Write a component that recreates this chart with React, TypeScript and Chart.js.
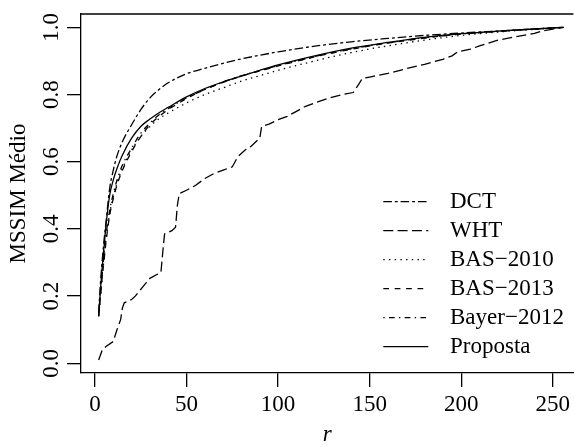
import React, { useEffect, useRef } from "react";
import { Chart, registerables } from "chart.js";

Chart.register(...registerables);

// ---- data ----
const rSmooth = [2, 3, 4, 5, 6, 8, 10, 12, 15, 20, 25, 30, 35, 40, 50, 60, 70, 80, 90, 100, 120, 140, 160, 180, 200, 220, 240, 256];
const dct = [0.15, 0.24, 0.31, 0.37, 0.42, 0.52, 0.575, 0.617, 0.66, 0.71, 0.755, 0.79, 0.815, 0.835, 0.862, 0.878, 0.893, 0.906, 0.917, 0.927, 0.944, 0.957, 0.967, 0.976, 0.983, 0.989, 0.995, 1.0];
const bas2010 = [0.14, 0.2, 0.26, 0.315, 0.365, 0.445, 0.495, 0.535, 0.58, 0.635, 0.675, 0.705, 0.728, 0.745, 0.775, 0.8, 0.82, 0.84, 0.856, 0.872, 0.9, 0.925, 0.945, 0.962, 0.976, 0.986, 0.994, 1.0];
const bas2013 = [0.14, 0.2, 0.26, 0.31, 0.36, 0.44, 0.49, 0.53, 0.575, 0.63, 0.675, 0.71, 0.735, 0.755, 0.788, 0.815, 0.836, 0.855, 0.87, 0.885, 0.912, 0.935, 0.953, 0.968, 0.98, 0.988, 0.995, 1.0];
const bayer2012 = [0.145, 0.21, 0.27, 0.33, 0.38, 0.455, 0.505, 0.545, 0.59, 0.64, 0.685, 0.715, 0.74, 0.758, 0.79, 0.815, 0.837, 0.856, 0.871, 0.886, 0.913, 0.936, 0.954, 0.969, 0.98, 0.988, 0.995, 1.0];
const proposta = [0.14, 0.22, 0.29, 0.35, 0.41, 0.5, 0.546, 0.58, 0.62, 0.67, 0.705, 0.727, 0.746, 0.762, 0.793, 0.818, 0.838, 0.855, 0.872, 0.888, 0.915, 0.938, 0.955, 0.97, 0.981, 0.989, 0.995, 1.0];

const rWht = [2, 4, 6, 10, 12, 14, 15, 16, 20, 22, 26, 28, 30, 34, 36, 37, 38, 42, 44, 45, 46, 50, 55, 60, 65, 70, 75, 78, 82, 85, 90, 91, 95, 100, 105, 110, 115, 120, 128, 135, 141, 144, 146, 150, 160, 170, 180, 190, 195, 198, 205, 210, 220, 230, 240, 245, 250, 256];
const wht = [0.01, 0.04, 0.05, 0.065, 0.1, 0.13, 0.165, 0.18, 0.19, 0.2, 0.227, 0.24, 0.253, 0.265, 0.27, 0.33, 0.385, 0.395, 0.405, 0.47, 0.505, 0.515, 0.53, 0.55, 0.565, 0.575, 0.585, 0.615, 0.635, 0.645, 0.67, 0.705, 0.712, 0.725, 0.735, 0.75, 0.765, 0.775, 0.79, 0.8, 0.806, 0.83, 0.848, 0.852, 0.863, 0.877, 0.89, 0.905, 0.915, 0.927, 0.935, 0.945, 0.962, 0.972, 0.982, 0.99, 0.995, 1.0];

const xTicks = [0, 50, 100, 150, 200, 250];
const yTicks = [0, 0.2, 0.4, 0.6, 0.8, 1.0];
const yTickLabels = ["0.0", "0.2", "0.4", "0.6", "0.8", "1.0"];

const seriesLabels = ["DCT", "WHT", "BAS\u22122010", "BAS\u22122013", "Bayer\u22122012", "Proposta"];

const FONT = "'Liberation Serif', 'DejaVu Serif', serif";

export default function App() {
  const ref = useRef<HTMLCanvasElement | null>(null);

  useEffect(() => {
    if (!ref.current) return;
    const pts = (xs: number[], ys: number[]) => xs.map((x, i) => ({ x, y: ys[i] }));
    const dashes: number[][] = [
      [8.6, 2.9, 2.9, 2.9],
      [10, 4.3],
      [1.4, 4.3],
      [5.7, 5.7],
      [1.4, 4.3, 5.7, 4.3],
      [],
    ];
    const dataSets = [
      pts(rSmooth, dct),
      pts(rWht, wht),
      pts(rSmooth, bas2010),
      pts(rSmooth, bas2013),
      pts(rSmooth, bayer2012),
      pts(rSmooth, proposta),
    ];
    const datasets = dataSets.map((d, i) => ({
      label: seriesLabels[i],
      data: d,
      borderColor: "#000",
      borderWidth: 1.3,
      borderDash: dashes[i],
      pointRadius: 0,
      fill: false,
      tension: 0,
      cubicInterpolationMode: i === 1 ? "default" : "monotone",
    }));

    const framePlugin = {
      id: "frame",
      afterDraw(chart: any) {
        const { ctx, chartArea } = chart;
        ctx.save();
        // top border of box
        ctx.strokeStyle = "#000";
        ctx.lineWidth = 1.3;
        ctx.beginPath();
        ctx.moveTo(chartArea.left, chartArea.top);
        ctx.lineTo(chartArea.right, chartArea.top);
        ctx.stroke();
        // y tick labels (rotated, R style)
        const ys = chart.scales.y;
        ctx.fillStyle = "#000";
        ctx.font = `23px ${FONT}`;
        ctx.textAlign = "center";
        ctx.textBaseline = "middle";
        ys.ticks.forEach((t: any, i: number) => {
          const py = ys.getPixelForValue(t.value);
          ctx.save();
          ctx.translate(51.7, py);
          ctx.rotate(-Math.PI / 2);
          ctx.fillText(yTickLabels[i], 0, 0);
          ctx.restore();
        });
        // legend
        const lx0 = 383.3;
        const lx1 = 428.3;
        const tx = 450;
        const y0 = 201.7;
        const dy = 29;
        chart.data.datasets.forEach((ds: any, i: number) => {
          const y = y0 + i * dy;
          ctx.save();
          ctx.lineWidth = 1.3;
          ctx.setLineDash(ds.borderDash || []);
          ctx.beginPath();
          ctx.moveTo(lx0, y);
          ctx.lineTo(lx1, y);
          ctx.stroke();
          ctx.restore();
          ctx.textAlign = "left";
          ctx.fillText(ds.label, tx, y);
        });
        ctx.restore();
      },
    };

    const chart = new Chart(ref.current, {
      type: "line",
      data: { datasets: datasets as any },
      options: {
        animation: false,
        responsive: false,
        maintainAspectRatio: false,
        layout: { padding: { top: 14, left: 0, right: 0, bottom: 0 } },
        plugins: {
          legend: { display: false },
          tooltip: { enabled: false },
        },
        scales: {
          x: {
            type: "linear",
            min: -7.64,
            max: 261.3,
            afterBuildTicks: (s: any) => {
              s.ticks = xTicks.map((v) => ({ value: v }));
            },
            afterFit: (s: any) => {
              s.height = 74;
            },
            grid: {
              display: true,
              drawOnChartArea: false,
              drawTicks: true,
              tickLength: 14,
              color: "#000",
              lineWidth: 1.3,
            },
            border: { display: true, color: "#000", width: 1.3 },
            ticks: {
              color: "#000",
              font: { family: FONT, size: 23 },
              padding: 4,
              maxRotation: 0,
              minRotation: 0,
              autoSkip: false,
              callback: (v: any) => String(v),
            },
            title: {
              display: true,
              text: "r",
              color: "#000",
              font: { family: FONT, size: 23, style: "italic", lineHeight: 1 },
              padding: { top: 0, bottom: 0.5 },
            },
          },
          y: {
            type: "linear",
            min: -0.0288,
            max: 1.0397,
            afterBuildTicks: (s: any) => {
              s.ticks = yTicks.map((v) => ({ value: v }));
            },
            afterFit: (s: any) => {
              s.width = 81;
            },
            grid: {
              display: true,
              drawOnChartArea: false,
              drawTicks: true,
              tickLength: 14,
              color: "#000",
              lineWidth: 1.3,
            },
            border: { display: true, color: "#000", width: 1.3 },
            ticks: { display: false },
            title: {
              display: true,
              text: "MSSIM M\u00e9dio",
              color: "#000",
              font: { family: FONT, size: 23, lineHeight: 1 },
              padding: { top: 7.5, bottom: 0 },
            },
          },
        },
      },
      plugins: [framePlugin],
    });
    return () => chart.destroy();
  }, []);

  return (
    <div style={{ position: "fixed", left: 0, top: 0, width: 574, height: 447, background: "#fff" }}>
      <canvas ref={ref} width={574} height={447} style={{ width: 574, height: 447, display: "block" }} />
    </div>
  );
}
